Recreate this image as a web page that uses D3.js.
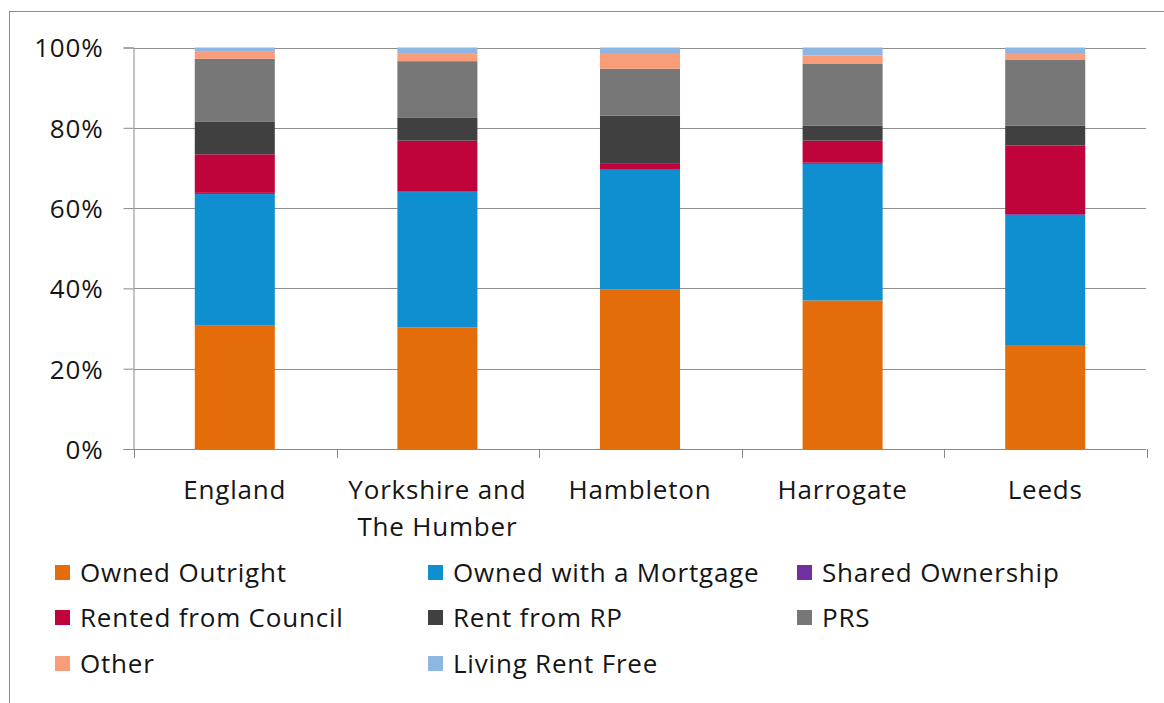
<!DOCTYPE html>
<html>
<head>
<meta charset="utf-8">
<script src="https://cdn.jsdelivr.net/npm/d3@7"></script>
<style>
  body { margin: 0; background: #fff; }
  text { font-family: "Open Sans", sans-serif; fill: #151515; letter-spacing: 0.8px; }
</style>
</head>
<body>
<script>
// categories and tenure series (percent of households)
var areas = ["England", "Yorkshire and The Humber", "Hambleton", "Harrogate", "Leeds"];
var tenures = ["Owned Outright", "Owned with a Mortgage", "Shared Ownership",
               "Rented from Council", "Rent from RP", "PRS", "Other", "Living Rent Free"];
var ownedOutright   = [30.7, 30.3, 39.7, 37.0, 25.7];
var ownedMortgage   = [32.8, 33.7, 29.8, 34.0, 32.6];
var sharedOwnership = [0.3, 0.2, 0.2, 0.3, 0.2];
var rentedCouncil   = [9.6, 12.6, 1.5, 5.5, 17.1];
var rentFromRP      = [8.2, 5.8, 11.8, 3.7, 4.9];
var prs             = [15.6, 14.0, 11.7, 15.4, 16.4];
var other           = [1.9, 2.0, 3.7, 2.1, 1.5];
var livingRentFree  = [0.9, 1.4, 1.6, 2.0, 1.6];
var yTicks = [0, 20, 40, 60, 80, 100];

var colours = ["#e46c0a", "#0f8fd0", "#7030a0", "#c0033a", "#404040", "#777777", "#f89c7a", "#8db6e3"];

var w = 1164, h = 703;
var series = [ownedOutright, ownedMortgage, sharedOwnership, rentedCouncil,
              rentFromRP, prs, other, livingRentFree];

// build rows for d3.stack
var rows = areas.map(function(a, i) {
  var r = { area: a };
  tenures.forEach(function(t, k) { r[t] = series[k][i]; });
  return r;
});

var svg = d3.select("body").append("svg")
    .attr("width", w)
    .attr("height", h);

// outer frame
svg.append("rect")
    .attr("x", 9.5).attr("y", 11.5)
    .attr("width", w + 10).attr("height", h + 10)
    .attr("fill", "none")
    .attr("stroke", "#8c8c8c")
    .attr("stroke-width", 1);

var x = d3.scaleBand()
    .domain(areas)
    .range([134, 1146])
    .paddingInner(0.605)
    .paddingOuter(0.3);

var y = d3.scaleLinear()
    .domain([0, 100])
    .range([449, 47.5]);

var color = d3.scaleOrdinal().domain(tenures).range(colours);

// y axis
var yAxis = svg.append("g")
    .attr("transform", "translate(133.5,0)")
    .call(d3.axisLeft(y)
      .tickValues(yTicks)
      .tickSize(10)
      .tickPadding(20)
      .tickFormat(function(d) { return d + "%"; }));
yAxis.select(".domain").attr("stroke", "#888");
yAxis.selectAll(".tick line").attr("stroke", "#888");
yAxis.selectAll(".tick text")
    .attr("font-size", 26)
    .attr("font-family", "Open Sans, sans-serif")
    .attr("fill", "#151515")
    .attr("dy", "0.36em");

// gridlines
svg.append("g").selectAll("line")
  .data(yTicks.slice(1))
  .enter().append("line")
    .attr("x1", 134).attr("x2", 1146)
    .attr("y1", function(d) { return Math.round(y(d)) + 0.5; })
    .attr("y2", function(d) { return Math.round(y(d)) + 0.5; })
    .attr("stroke", "#8f8f8f")
    .attr("stroke-width", 1);

// stacked bars
var stacked = d3.stack().keys(tenures)(rows);

svg.append("g").selectAll("g")
  .data(stacked)
  .enter().append("g")
    .attr("fill", function(d) { return color(d.key); })
  .selectAll("rect")
  .data(function(d) { return d; })
  .enter().append("rect")
    .attr("x", function(d) { return x(d.data.area); })
    .attr("width", x.bandwidth())
    .attr("y", function(d) { return y(d[1]); })
    .attr("height", function(d) { return y(d[0]) - y(d[1]); });

// x axis: line and boundary ticks between categories
var bounds = d3.range(areas.length + 1).map(function(i) { return 134 + i * x.step(); });
svg.append("line")
    .attr("x1", 134).attr("x2", 1146)
    .attr("y1", 449.5).attr("y2", 449.5)
    .attr("stroke", "#888");
svg.append("g").selectAll("line")
  .data(bounds)
  .enter().append("line")
    .attr("x1", function(d) { return Math.round(d) + 0.5; })
    .attr("x2", function(d) { return Math.round(d) + 0.5; })
    .attr("y1", 449).attr("y2", 458)
    .attr("stroke", "#888");

var labelLines = {
  "Yorkshire and The Humber": ["Yorkshire and", "The Humber"]
};
svg.append("g").selectAll("text")
  .data(areas)
  .enter().append("text")
    .attr("text-anchor", "middle")
    .attr("font-size", 26)
    .attr("x", function(d) { return x(d) + x.bandwidth() / 2; })
    .attr("y", 499)
  .each(function(d) {
    var lines = labelLines[d] || [d];
    var t = d3.select(this);
    lines.forEach(function(l, i) {
      t.append("tspan")
        .attr("x", x(d) + x.bandwidth() / 2)
        .attr("dy", i ? 37 : 0)
        .text(l);
    });
  });

// legend, three columns
var legendX = [55, 428, 797];
var legendY = [573, 618, 664];
var legend = svg.append("g").selectAll("g")
  .data(tenures)
  .enter().append("g")
    .attr("transform", function(d, i) {
      return "translate(" + legendX[i % 3] + "," + legendY[Math.floor(i / 3)] + ")";
    });
legend.append("rect")
    .attr("x", 0).attr("y", -8)
    .attr("width", 15).attr("height", 15)
    .attr("fill", function(d) { return color(d); });
legend.append("text")
    .attr("x", 25)
    .attr("y", 9)
    .attr("font-size", 26)
    .text(function(d) { return d; });
</script>
</body>
</html>
